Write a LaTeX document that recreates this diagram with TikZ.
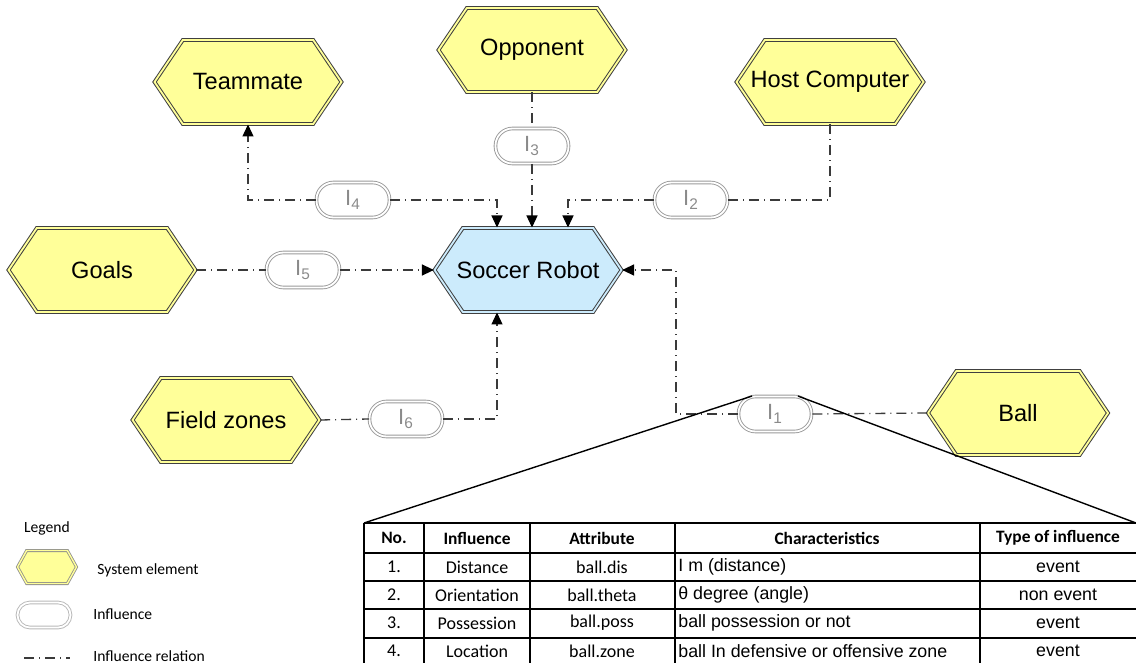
\documentclass[tikz,border=0pt]{standalone}
\usepackage{fontspec}
\setmainfont{Liberation Sans}
\newfontfamily\calibri{Carlito}
\usepackage{tikz}
\usetikzlibrary{positioning, arrows.meta, shapes.symbols}

\definecolor{elemyellow}{HTML}{FFFF99}
\definecolor{robotblue}{HTML}{CCEBFC}
\definecolor{linegray}{HTML}{3A3A3A}
\definecolor{pillgray}{HTML}{9A9A9A}
\definecolor{labelgray}{HTML}{8A8A8A}

% element labels may run into the pointed ends
\newcommand{\hexlabel}[1]{\makebox[0pt]{#1}}

\begin{document}
\begin{tikzpicture}[
  x=0.5pt, y=-0.5pt,
  font=\fontsize{11.8}{14}\selectfont,
  element/.style={signal, signal to=west and east, signal pointer angle=112,
    draw=black!75, line width=0.5pt, double=elemyellow, double distance=0.9pt,
    fill=elemyellow, minimum width=93.5pt, minimum height=42pt, inner sep=0pt},
  influence/.style={rectangle, rounded corners=8.5pt, draw=pillgray, line width=0.45pt,
    double=white, double distance=0.9pt, minimum width=36.5pt, minimum height=17.5pt,
    inner sep=0pt, text=labelgray, font=\fontsize{11}{12}\selectfont},
  relation/.style={draw=linegray, line width=0.65pt,
    dash pattern=on 5pt off 2.5pt on 0.5pt off 2.5pt},
  arrow/.style={relation, -{Triangle[length=6pt, width=5.5pt, color=black]}},
  cell/.style={font=\calibri\fontsize{9}{10}\selectfont, inner sep=0pt},
  head/.style={cell, font=\calibri\bfseries\fontsize{8.7}{10}\selectfont},
  value/.style={cell, font=\fontsize{8.9}{10}\selectfont},
  note/.style={font=\calibri\fontsize{7.8}{9}\selectfont, anchor=west, inner sep=0pt},
]
  \clip (0,0) rectangle (1136,663);

  % system elements
  \node[element, fill=robotblue, double=robotblue] (robot) at (528,270) {\hexlabel{Soccer Robot}};
  \node[element] (mate)  at (248,82)   {\hexlabel{Teammate}};
  \node[element] (opp)   at (532,50)   {\hexlabel{Opponent}};
  \node[element] (host)  at (830,82)   {\hexlabel{Host Computer}};
  \node[element] (goals) at (102,270)  {\hexlabel{Goals}};
  \node[element] (field) at (226,420)  {\hexlabel{Field zones}};
  \node[element, minimum width=90pt] (ball) at (1018,413) {\hexlabel{Ball}};

  % influences
  \node[influence] (i1) at (775,414) {I\textsubscript{1}};
  \node[influence] (i2) at (691,200) {I\textsubscript{2}};
  \node[influence] (i3) at (532,146) {I\textsubscript{3}};
  \node[influence] (i4) at (353,200) {I\textsubscript{4}};
  \node[influence] (i5) at (303,270) {I\textsubscript{5}};
  \node[influence] (i6) at (406,419) {I\textsubscript{6}};

  % relations
  \draw[arrow] (i4.west) -| (mate.south);
  \draw[arrow] (i4.east) -| ([xshift=-15.5pt]robot.north);
  \draw[relation] (opp.south) -- (i3.north);
  \draw[arrow] (i3.south) -- (i3.south |- robot.north);
  \draw[relation] (host.south) |- (i2.east);
  \draw[arrow] (i2.west) -| ([xshift=20pt]robot.north);
  \draw[relation] (goals.east) -- (i5.west);
  \draw[arrow] (i5.east) -- (robot.west);
  \draw[relation] (field.east) -- (i6.west);
  \draw[arrow] (i6.east) -| ([xshift=-15.5pt]robot.south);
  \coordinate (ballbend) at (676,414);
  \draw[relation] (ball.west) -- (i1.east);
  \draw[arrow] (i1.west) -- (ballbend) |- (robot.east);

  % detail table of I1
  \coordinate (tabnw) at (364,523);
  \coordinate (tabne) at (1136,523);
  \draw[line width=0.7pt] ([xshift=7pt]i1.north west) -- (tabnw);
  \draw[line width=0.7pt] ([xshift=-7pt]i1.north east) -- (tabne);
  \foreach \y in {523,553,581,609,638,666}
    \draw[line width=0.6pt] (364,\y) -- (1140,\y);
  \foreach \x in {364,424,530,675,980}
    \draw[line width=0.6pt] (\x,523) -- (\x,670);

  \node[head] at (394,538) {No.};
  \node[head] at (477,538) {Influence};
  \node[head] at (602,538) {Attribute};
  \node[head] at (827,538) {Characteristics};
  \node[head] at (1058,538) {Type of influence};
  \foreach \n/\infl/\attr/\chr/\kind [count=\i] in {
      1./Distance/ball.dis/I m (distance)/event,
      2./Orientation/ball.theta/θ degree (angle)/non event,
      3./Possession/ball.poss/ball possession or not/event,
      4./Location/ball.zone/ball In defensive or offensive zone/event} {
    \node[cell] at (394,539+28*\i) {\n};
    \node[cell] at (477,539+28*\i) {\infl};
    \node[cell] at (602,539+28*\i) {\attr};
    \node[value, anchor=west] at (678,539+28*\i) {\chr};
    \node[value] at (1058,539+28*\i) {\kind};
  }

  % legend
  \node[note, anchor=center] (legend) at (47,528) {Legend};
  \node[element, signal pointer angle=122, draw=black!45, minimum width=29.5pt,
    minimum height=16.5pt, double distance=0.7pt, line width=0.4pt] (legelem) at (47,567) {};
  \node[note] at (97,570) {System element};
  \node[influence, draw=pillgray!70, minimum width=26.5pt, minimum height=12.5pt,
    rounded corners=6.2pt] (leginfl) at (44,615) {};
  \node[note] at (93,614) {Influence};
  \coordinate (legfrom) at (24,658);
  \coordinate (legto) at (70,658);
  \draw[relation] (legfrom) -- (legto);
  \node[note] at (93,656) {Influence relation};
\end{tikzpicture}
\end{document}
